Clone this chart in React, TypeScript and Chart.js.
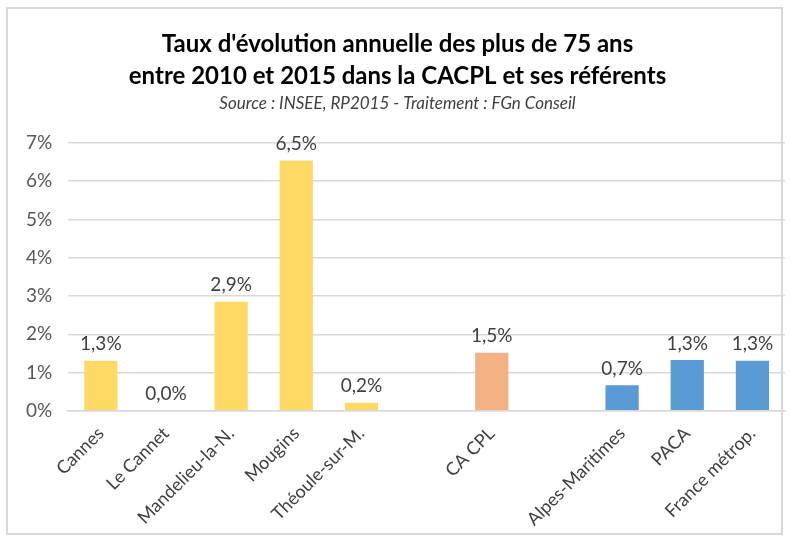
import React, { useEffect, useRef } from "react";
import { Chart, registerables } from "chart.js";

Chart.register(...registerables);

const categories = [
  "Cannes",
  "Le Cannet",
  "Mandelieu-la-N.",
  "Mougins",
  "Théoule-sur-M.",
  "",
  "CA CPL",
  "",
  "Alpes-Maritimes",
  "PACA",
  "France métrop.",
];
const values: (number | null)[] = [1.31, 0.0, 2.85, 6.54, 0.21, null, 1.52, null, 0.67, 1.33, 1.31];
const labelTexts = ["1,3%", "0,0%", "2,9%", "6,5%", "0,2%", "", "1,5%", "", "0,7%", "1,3%", "1,3%"];
const barColors = [
  "#FFD966", "#FFD966", "#FFD966", "#FFD966", "#FFD966", "#FFD966",
  "#F4B183", "#F4B183",
  "#5B9BD5", "#5B9BD5", "#5B9BD5",
];
const titleLines = [
  "Taux d'évolution annuelle des plus de 75 ans",
  "entre 2010 et 2015 dans la CACPL et ses référents",
];
const subtitleText = "Source : INSEE, RP2015 - Traitement : FGn Conseil";
const yTicks = [0, 1, 2, 3, 4, 5, 6, 7];

const FONT = "Lato, 'Open Sans', sans-serif";

const valueLabels = {
  id: "valueLabels",
  afterDatasetsDraw(chart: any) {
    const ctx = chart.ctx;
    const meta = chart.getDatasetMeta(0);
    ctx.save();
    ctx.font = `19px ${FONT}`;
    ctx.fillStyle = "#404040";
    ctx.textAlign = "center";
    ctx.textBaseline = "bottom";
    meta.data.forEach((bar: any, i: number) => {
      if (values[i] === null) return;
      ctx.fillText(labelTexts[i], bar.x, bar.y - 7);
    });
    ctx.restore();
  },
};

export default function App() {
  const ref = useRef<HTMLCanvasElement>(null);
  useEffect(() => {
    if (!ref.current) return;
    const chart = new Chart(ref.current, {
      type: "bar",
      data: {
        labels: categories,
        datasets: [
          {
            data: values,
            backgroundColor: barColors,
            categoryPercentage: 1,
            barPercentage: 0.51,
          },
        ],
      },
      plugins: [valueLabels],
      options: {
        animation: false,
        responsive: false,
        layout: { padding: { left: 10, right: 5, top: 20, bottom: 8 } },
        plugins: {
          legend: { display: false },
          tooltip: { enabled: false },
          title: {
            display: true,
            text: titleLines,
            color: "#000000",
            font: { family: FONT, size: 24, weight: "bold", lineHeight: 1.3 },
            padding: { top: 9, bottom: 2 },
          },
          subtitle: {
            display: true,
            text: subtitleText,
            color: "#404040",
            font: { family: FONT, size: 17, style: "italic" },
            padding: { top: 0, bottom: 29 },
          },
        },
        scales: {
          x: {
            grid: { display: false },
            border: { color: "#D9D9D9", width: 1.5 },
            ticks: {
              color: "#404040",
              font: { family: FONT, size: 18 },
              minRotation: 45,
              maxRotation: 45,
              autoSkip: false,
              padding: 4,
            },
          },
          y: {
            min: 0,
            max: 7,
            afterBuildTicks: (axis: any) => {
              axis.ticks = yTicks.map((v) => ({ value: v }));
            },
            grid: { color: "#D9D9D9", lineWidth: 1.5, drawTicks: false },
            border: { display: false },
            ticks: {
              color: "#595959",
              font: { family: FONT, size: 19 },
              padding: 16,
              callback: (v: any) => `${v}%`,
            },
          },
        },
      },
    });
    return () => chart.destroy();
  }, []);
  return (
    <div
      style={{
        position: "absolute",
        left: 0,
        top: 0,
        width: 790,
        height: 542,
        background: "#ffffff",
      }}
    >
      <div
        style={{
          position: "absolute",
          left: 6,
          top: 7,
          width: 777,
          height: 528,
          border: "2px solid #D9D9D9",
          boxSizing: "border-box",
        }}
      />
      <canvas ref={ref} width={790} height={542} style={{ position: "absolute", left: 0, top: 0 }} />
    </div>
  );
}
